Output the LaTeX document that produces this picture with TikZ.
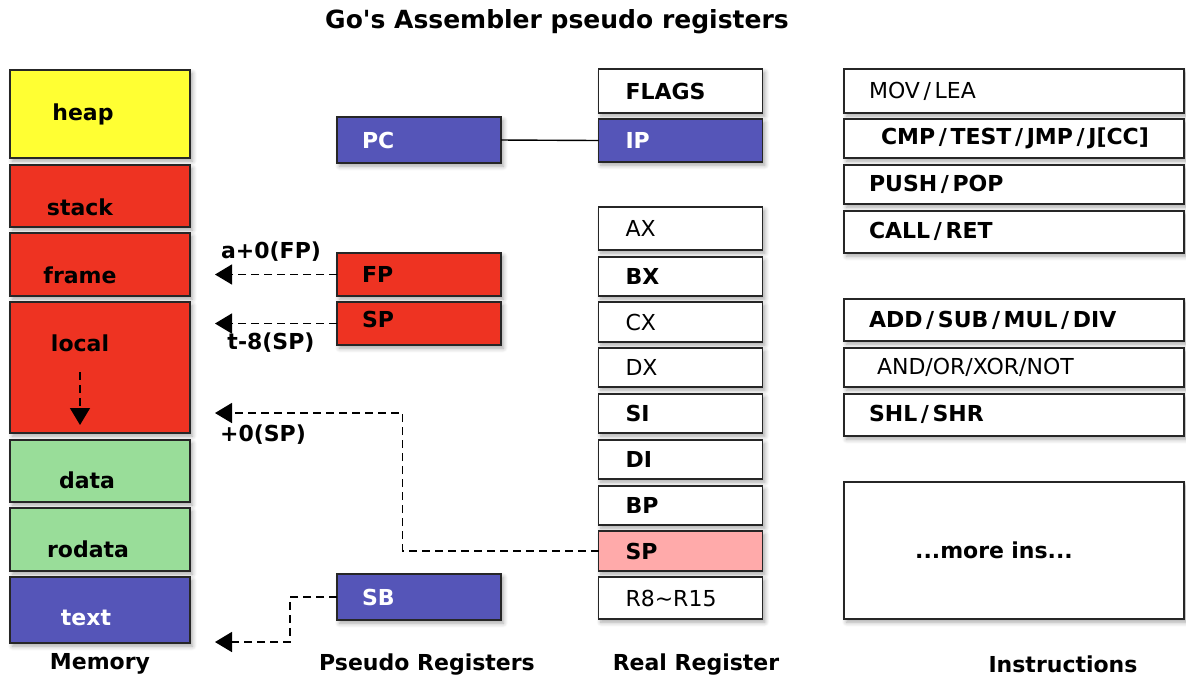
\documentclass[tikz,border=0pt]{standalone}
\usepackage{fontspec}
\setmainfont{DejaVu Sans}
\usepackage{tikz}
\usetikzlibrary{arrows.meta,shadows.blur}

\definecolor{heapyellow}{HTML}{FFFF33}
\definecolor{memred}{HTML}{EE3322}
\definecolor{memgreen}{HTML}{99DD99}
\definecolor{regblue}{HTML}{5555B8}
\definecolor{sppink}{HTML}{FFAAAA}

\newcommand{\isep}{\,/\,}

\begin{document}
\begin{tikzpicture}[x=0.5pt,y=-0.5pt,
  font=\fontsize{11}{13}\selectfont\bfseries,
  box/.style={draw=black!85, line width=0.9pt, inner sep=0pt, outer sep=0pt,
    blur shadow={shadow xshift=1.2pt, shadow yshift=-1.6pt, shadow opacity=35, shadow blur steps=6}},
  membox/.style={box, minimum width=90pt},
  pseudobox/.style={box, fill=#1, text width=57pt, inner xsep=12.5pt, align=left, minimum height=21.5pt},
  regbox/.style={box, fill=white, text width=55pt, inner xsep=13.5pt, align=left, minimum height=20pt},
  insbox/.style={box, fill=white, text width=145pt, inner xsep=12.5pt, align=left, minimum height=20pt},
  ptr/.style={dashed, dash pattern=on 4pt off 2.5pt, line width=0.75pt, -{Triangle[width=10pt,length=8.5pt]}},
  plain/.style={font=\fontsize{11}{13}\selectfont\mdseries}]

\useasboundingbox (0,0) rectangle (1186,677);

% Title
\node[font=\fontsize{12.5}{15}\selectfont\bfseries] (title) at (557,22) {Go\textquotesingle s Assembler pseudo registers};

% Memory column
\node[membox, fill=heapyellow, minimum height=44pt] (heap) at (100,114) {};
\node[membox, fill=memred, minimum height=31pt] (stack) at (100,196) {};
\node[membox, fill=memred, minimum height=31.5pt] (frame) at (100,264.5) {};
\node[membox, fill=memred, minimum height=65.5pt] (local) at (100,367.5) {};
\node[membox, fill=memgreen, minimum height=31pt] (data) at (100,471) {};
\node[membox, fill=memgreen, minimum height=31.5pt] (rodata) at (100,539.5) {};
\node[membox, fill=regblue, minimum height=33pt] (text) at (100,610) {};

\node (heap-t) at (83,114) {heap};
\node (stack-t) at (80,207) {stack};
\node (frame-t) at (80,275) {frame};
\node (local-t) at (80,343) {local};
\node (data-t) at (87,480) {data};
\node (rodata-t) at (88,549) {rodata};
\node[text=white] (text-t) at (86,618) {text};

% Stack grows down
\coordinate (grow-a) at (80,372);
\coordinate (grow-b) at (80,425);
\draw[ptr] (grow-a) -- (grow-b);

% Pseudo registers
\node[pseudobox=regblue, text=white, minimum height=23pt] (pc) at (419,140) {PC};
\node[pseudobox=memred] (fp) at (419,274.5) {FP};
\node[pseudobox=memred] (psp) at (419,323.5) {\raisebox{4pt}{SP}};
\node[pseudobox=regblue, text=white, minimum height=23pt] (sb) at (419,597) {SB};

% Real registers
\node[regbox, minimum height=22pt] (flags) at (680.5,91) {FLAGS};
\node[regbox, fill=regblue, text=white, minimum height=21.5pt] (ip) at (680.5,140.5) {IP};
\node[regbox, plain, minimum height=21.5pt] (ax) at (680.5,228.5) {AX};
\node[regbox, minimum height=19.5pt] (bx) at (680.5,276.5) {BX};
\node[regbox, plain] (cx) at (680.5,322) {CX};
\node[regbox, plain, minimum height=19.5pt] (dx) at (680.5,367.5) {DX};
\node[regbox, minimum height=19.5pt] (si) at (680.5,413.5) {SI};
\node[regbox, minimum height=19.5pt] (di) at (680.5,459.5) {DI};
\node[regbox, minimum height=19.5pt] (bp) at (680.5,505.5) {BP};
\node[regbox, fill=sppink] (rsp) at (680.5,551) {SP};
\node[regbox, plain, minimum height=21pt] (r8) at (680.5,598) {R8\textasciitilde R15};

% Instructions
\node[insbox, plain, minimum height=22pt] (mov) at (1014,91) {MOV\isep LEA};
\node[insbox, minimum height=19.5pt] (cmp) at (1014,138.5) {\hspace*{6pt}CMP\isep TEST\isep JMP\isep J[CC]};
\node[insbox, minimum height=19.5pt] (push) at (1014,184.5) {PUSH\isep POP};
\node[insbox, minimum height=21pt] (call) at (1014,232) {\raisebox{2pt}{CALL\isep RET}};
\node[insbox, minimum height=21pt] (add) at (1014,320) {ADD\isep SUB\isep MUL\isep DIV};
\node[insbox, plain, minimum height=19.5pt] (and) at (1014,367.5) {\hspace*{4pt}AND/OR/XOR/NOT};
\node[insbox, minimum height=21pt] (shl) at (1014,415) {\raisebox{2pt}{SHL\isep SHR}};
\node[insbox, minimum height=68.5pt, align=center] (more) at (1014,550.5) {\hspace*{-20pt}...more ins...};

% PC is IP
\draw[line width=0.7pt] (pc.east) -- (ip.west);

% Arrow ends at the memory column
\coordinate (tipx) at (215,0);
\coordinate (spmem) at (215,413);
\coordinate (sbmem) at (215,642);

\draw[ptr] (fp.west) -- (fp.west -| tipx);
\draw[ptr] (psp.west) -- (psp.west -| tipx);
\draw[ptr] (rsp.west) -- ++(-196,0) |- (spmem);
\draw[ptr] (sb.west) -- ++(-47,0) |- (sbmem);

\node (fp-l) at (271,252) {a+0(FP)};
\node (psp-l) at (271,343) {t-8(SP)};
\node (rsp-l) at (263,435) {+0(SP)};

% Column titles
\node (mem-h) at (100,664) {Memory};
\node (pseudo-h) at (427,664) {Pseudo Registers};
\node (real-h) at (696,664) {Real Register};
\node (ins-h) at (1063,664) {Instructions};

\end{tikzpicture}
\end{document}
